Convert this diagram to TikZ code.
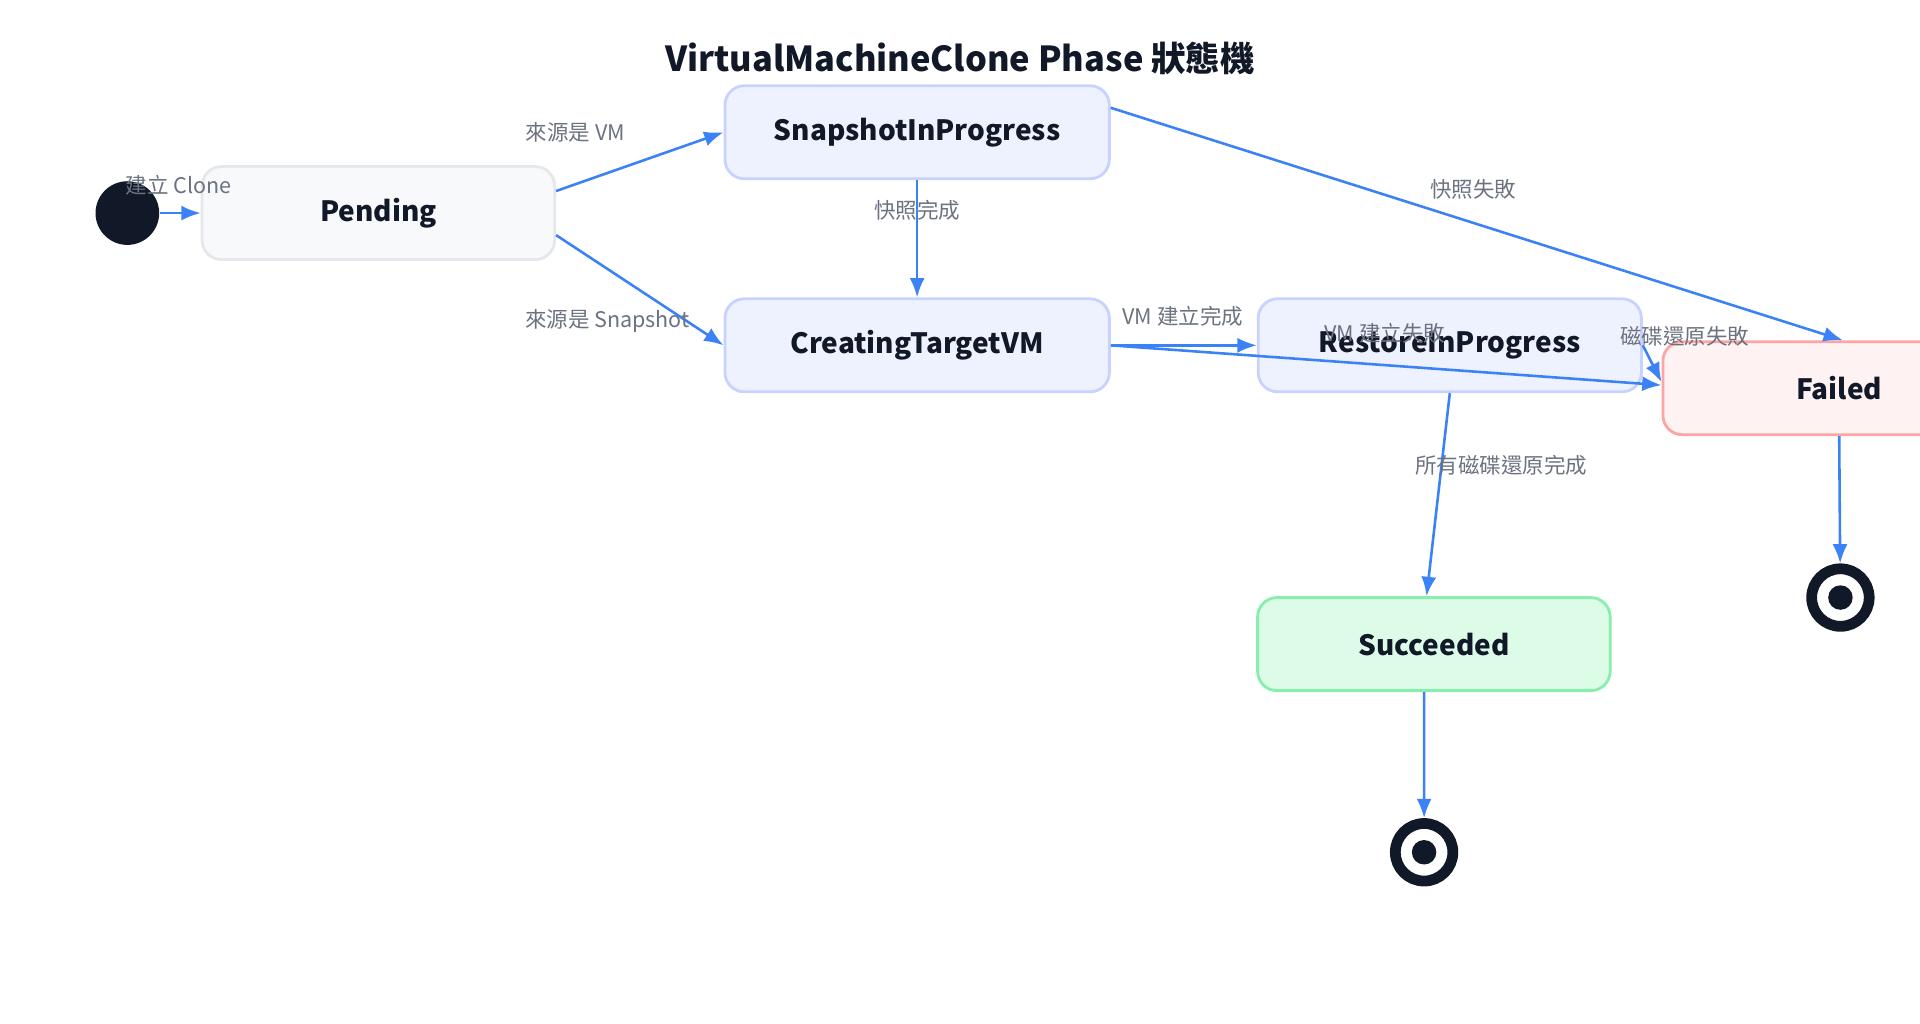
\documentclass[tikz,border=0pt]{standalone}
\usepackage{fontspec}
\setmainfont{Noto Sans CJK TC}
\usetikzlibrary{positioning,arrows.meta}
\definecolor{ink}{HTML}{111827}
\definecolor{lbl}{HTML}{6B7280}
\definecolor{arr}{HTML}{3B82F6}
\definecolor{pendfill}{HTML}{F8F9FB}
\definecolor{penddraw}{HTML}{E5E7EB}
\definecolor{bluefill}{HTML}{EEF2FF}
\definecolor{bluedraw}{HTML}{C7D2FE}
\definecolor{failfill}{HTML}{FEF2F2}
\definecolor{faildraw}{HTML}{FCA5A5}
\definecolor{donefill}{HTML}{DCFCE7}
\definecolor{donedraw}{HTML}{86EFAC}
\begin{document}
\begin{tikzpicture}[x=0.02cm,y=-0.02cm,
  state/.style={draw, rounded corners=9pt, line width=1.3pt, minimum width=5.76cm,
    minimum height=1.52cm, font=\fontsize{13}{15}\selectfont\bfseries, text=ink},
  blue/.style={state, fill=bluefill, draw=bluedraw},
  tr/.style={-{Latex[length=9pt,width=7pt]}, arr, line width=1.2pt},
  lab/.style={font=\fontsize{10}{12}\selectfont, text=lbl}]
  \useasboundingbox (0,0) rectangle (1568,836);
  \node [circle, fill=ink, minimum size=1.04cm, inner sep=0] (init) at (104,174) {};
  \node [state, fill=pendfill, draw=penddraw] (pend) at (309,174) {Pending};
  \node [blue, minimum width=6.28cm] (snap) at (749,108) {SnapshotInProgress};
  \node [blue, minimum width=6.28cm] (make) at (749,282) {CreatingTargetVM};
  \node [blue, minimum width=6.26cm] (rest) at (1184,282) {RestoreInProgress};
  \node [state, fill=failfill, draw=faildraw] (fail) at (1502,317) {Failed};
  \node [state, fill=donefill, draw=donedraw] (done) at (1171,526) {Succeeded};
  \node [circle, draw=ink, line width=5pt, minimum size=0.94cm, inner sep=0] (end1) at (1503,488) {};
  \fill [ink] (end1) circle (0.2cm);
  \node [circle, draw=ink, line width=5pt, minimum size=0.94cm, inner sep=0] (end2) at (1163,696) {};
  \fill [ink] (end2) circle (0.2cm);
  \node [font=\fontsize{16}{18}\selectfont\bfseries, text=ink] (title) at (784,48) {VirtualMachineClone Phase 狀態機};

  \draw [tr] (init) -- (pend);
  \node [lab] at (146,151) {建立 Clone};
  \draw [tr] ([yshift=0.36cm]pend.east) -- ([yshift=0cm]snap.west);
  \node [lab] at (470,108) {來源是 VM};
  \draw [tr] ([yshift=-0.36cm]pend.east) -- (make.west);
  \node [lab] at (496,262) {來源是 Snapshot};
  \draw [tr] (snap) -- (make);
  \node [lab] at (749,172) {快照完成};
  \draw [tr] ([yshift=0.4cm]snap.east) -- ([xshift=0.06cm]fail.north);
  \node [lab] at (1203,155) {快照失敗};
  \draw [tr] (make.east) -- (rest.west);
  \node [lab] at (966,258) {VM 建立完成};
  \draw [tr] (make.east) -- ([yshift=0.05cm]fail.west);
  \node [lab] at (1131,272) {VM 建立失敗};
  \draw [tr] (rest.east) -- ([yshift=0.1cm]fail.west);
  \node [lab] at (1376,275) {磁碟還原失敗};
  \draw [tr] (rest.south) -- ([xshift=-0.12cm]done.north);
  \node [lab] at (1226,380) {所有磁碟還原完成};
  \draw [tr] ([xshift=-0.16cm]done.south) -- (end2);
  \draw [tr] (fail.south) -- (end1);
\end{tikzpicture}
\end{document}
